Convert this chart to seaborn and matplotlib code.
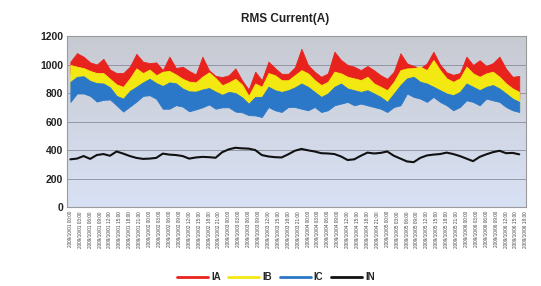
import numpy as np
import pandas as pd
import seaborn as sns
import matplotlib
matplotlib.use("Agg")
import matplotlib.pyplot as plt
from matplotlib.colors import LinearSegmentedColormap
from matplotlib.lines import Line2D

# envelopes of the dense RMS current traces (A), one sample every 2 hours
ia_hi = [1020, 1080, 1055, 1015, 1000, 1040, 965, 940, 940, 985, 1075, 1020, 1010, 1015, 961, 1055, 975,
         985, 955, 930, 1055, 960, 920, 912, 925, 973, 890, 825, 950, 890, 1020, 975, 935, 935, 980,
         1110, 997, 950, 914, 938, 1090, 1032, 997, 985, 961, 990, 960, 925, 900, 950, 1079,
         1008, 990, 975, 1008, 1090, 1000, 945, 928, 940, 1055, 997, 1030, 990, 1010, 1055, 970, 914, 920]
ia_lo = [940, 930, 925, 905, 890, 890, 850, 810, 795, 850, 920, 890, 915, 875, 900, 905, 880,
         850, 830, 825, 865, 895, 855, 805, 825, 850, 810, 730, 815, 795, 890, 875, 840, 840, 875,
         910, 890, 840, 805, 830, 900, 890, 865, 855, 840, 865, 815, 795, 770, 830, 910,
         925, 925, 935, 910, 980, 910, 855, 830, 855, 935, 890, 865, 890, 900, 865, 815, 780, 760]
ib_hi = [997, 985, 975, 955, 940, 940, 900, 860, 844, 903, 973, 940, 965, 925, 950, 955, 930,
         900, 880, 875, 915, 945, 905, 855, 875, 900, 860, 780, 867, 844, 940, 925, 890, 890, 925,
         961, 938, 891, 856, 879, 950, 938, 914, 903, 891, 914, 867, 844, 820, 879, 961,
         973, 975, 985, 961, 1032, 961, 903, 879, 903, 985, 938, 914, 938, 950, 914, 867, 832, 808]
ib_lo = [830, 865, 870, 835, 820, 815, 790, 730, 710, 765, 795, 825, 850, 820, 800, 825, 820,
         780, 760, 760, 775, 785, 760, 740, 760, 750, 720, 675, 725, 725, 795, 770, 760, 770, 790,
         815, 795, 760, 725, 745, 795, 815, 780, 770, 760, 770, 745, 725, 690, 745, 805,
         855, 865, 830, 815, 795, 770, 745, 735, 760, 815, 795, 770, 795, 805, 780, 745, 710, 690]
ic_hi = [879, 914, 918, 885, 870, 867, 840, 780, 761, 815, 844, 875, 900, 870, 850, 875, 868,
         832, 812, 810, 825, 835, 810, 788, 808, 800, 770, 725, 773, 773, 844, 820, 808, 820, 840,
         867, 844, 808, 773, 797, 844, 867, 832, 820, 808, 820, 797, 773, 738, 797, 856,
         903, 914, 879, 867, 844, 820, 797, 785, 808, 867, 844, 820, 844, 856, 832, 797, 761, 738]
ic_lo = [738, 797, 797, 780, 740, 752, 755, 714, 670, 705, 740, 780, 785, 760, 690, 690, 715,
         705, 672, 685, 700, 720, 690, 700, 700, 670, 665, 645, 643, 632, 702, 679, 667, 702, 702,
         690, 679, 702, 667, 679, 714, 726, 738, 714, 726, 714, 702, 690, 667, 702, 714,
         797, 773, 761, 738, 773, 738, 714, 679, 702, 749, 738, 714, 761, 749, 738, 702, 679, 667]
i_n = [335, 340, 358, 338, 365, 372, 360, 390, 375, 358, 345, 338, 340, 345, 375, 368, 365,
       358, 340, 348, 352, 350, 346, 385, 405, 416, 412, 410, 400, 365, 355, 350, 348, 370, 395,
       408, 398, 390, 378, 376, 372, 355, 330, 335, 360, 382, 376, 380, 390, 360, 340,
       320, 315, 345, 362, 368, 372, 382, 372, 358, 340, 322, 352, 370, 385, 395, 378, 380, 370]

hours = np.arange(len(i_n)) * 2
tick_hours = np.arange(0, 141, 3)
tick_labels = [t.strftime("%Y/%m/%d %H:%M") for t in
               pd.date_range("2009-10-01 00:00", periods=len(tick_hours), freq="3h")]

df = pd.DataFrame({"hour": hours, "IN": i_n})

sns.set_style("white")
plt.rcParams["font.family"] = ["Liberation Sans", "DejaVu Sans"]

fig = plt.figure(figsize=(5.41, 2.86), dpi=100)
ax = fig.add_axes([0.124, 0.276, 0.848, 0.598])

# grey-to-blue gradient behind the plot
grad = LinearSegmentedColormap.from_list("bg", ["#c8cad2", "#d8e1f4"])
ax.imshow(np.linspace(0, 1, 256).reshape(-1, 1), cmap=grad, aspect="auto",
          extent=[0, 1, 0, 1], transform=ax.transAxes, zorder=0)

for y in range(200, 1200, 200):
    ax.axhline(y, color="#8a8d9a", lw=0.6, zorder=1)

ax.fill_between(hours, ia_lo, ia_hi, color="#e8231e", lw=0.6, ec="#e8231e", zorder=2)
ax.fill_between(hours, ib_lo, ib_hi, color="#f4e812", lw=0.6, ec="#f4e812", zorder=3)
ax.fill_between(hours, ic_lo, ic_hi, color="#2b78c8", lw=0.6, ec="#2b78c8", zorder=4)
sns.lineplot(data=df, x="hour", y="IN", ax=ax, color="#111111", lw=1.5,
             zorder=5, legend=False)

ax.set_xlim(-1, 138)
ax.set_ylim(0, 1200)
ax.set_yticks(range(0, 1201, 200))
ax.set_yticklabels([str(v) for v in range(0, 1201, 200)], fontsize=7.5,
                   fontweight="bold", color="#222222")
ax.set_xticks(tick_hours)
ax.set_xticklabels(tick_labels, rotation=90, fontsize=3.4, color="#444444")
ax.tick_params(axis="both", length=0, pad=3)
ax.set_xlabel("")
ax.set_ylabel("")
for s in ax.spines.values():
    s.set_color("#9a9a9a")
    s.set_linewidth(0.8)

fig.text(0.527, 0.935, "RMS Current(A)", ha="center", va="center",
         fontsize=8.5, fontweight="bold", color="#222222")

handles = [Line2D([], [], color=c, lw=2) for c in ["#e8231e", "#f4e812", "#2b78c8", "#111111"]]
fig.legend(handles, ["IA", "IB", "IC", "IN"], loc="center", bbox_to_anchor=(0.51, 0.03),
           ncol=4, frameon=False, handlelength=3.2, handletextpad=0.3, columnspacing=0.8,
           prop={"size": 7, "weight": "bold"})

fig.savefig("out.png", dpi=100)
